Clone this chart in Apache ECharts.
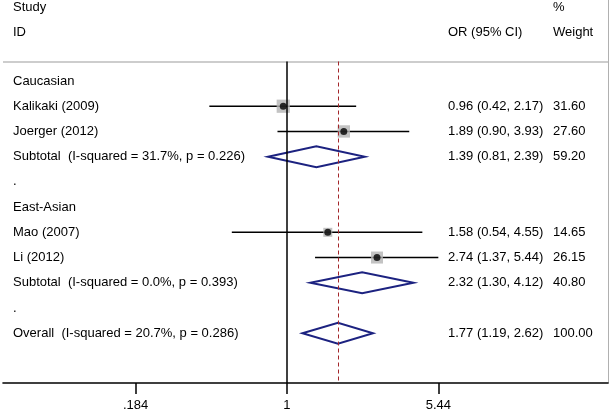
<!DOCTYPE html>
<html><head><meta charset="utf-8">
<script src="https://cdn.jsdelivr.net/npm/echarts@6/dist/echarts.min.js"></script>
<style>html,body{margin:0;padding:0;background:#fff}#c{width:609px;height:414px}</style>
</head><body><div id="c"></div>
<script>
// ---- data ----
const rowLabels = ['Caucasian', 'Kalikaki (2009)', 'Joerger (2012)', 'Subtotal  (I-squared = 31.7%, p = 0.226)', '.',
  'East-Asian', 'Mao (2007)', 'Li (2012)', 'Subtotal  (I-squared = 0.0%, p = 0.393)', '.',
  'Overall  (I-squared = 20.7%, p = 0.286)'];
const rowKinds = ['group', 'study', 'study', 'pooled', 'blank', 'group', 'study', 'study', 'pooled', 'blank', 'pooled'];
const orValues = [null, 0.96, 1.89, 1.39, null, null, 1.58, 2.74, 2.32, null, 1.77];
const ciLow    = [null, 0.42, 0.90, 0.81, null, null, 0.54, 1.37, 1.30, null, 1.19];
const ciHigh   = [null, 2.17, 3.93, 2.39, null, null, 4.55, 5.44, 4.12, null, 2.62];
const weights  = [null, 31.60, 27.60, 59.20, null, null, 14.65, 26.15, 40.80, null, 100.00];
const headerLeft = ['Study', 'ID'];
const headerOR = ['', 'OR (95% CI)'];
const headerWeight = ['%', 'Weight'];
const tickValues = [0.184, 1, 5.44];
const tickLabels = ['.184', '1', '5.44'];
const nullValue = 1;
const overallOR = 1.77;

// ---- layout ----
const FONT = '"Liberation Sans", Arial, sans-serif';
const ROW0 = 81, ROWH = 25.22, GRID_TOP = 0, GRID_BOTTOM_PX = 383;
const Y_MIN = (GRID_TOP - ROW0) / ROWH;
const Y_MAX = (GRID_BOTTOM_PX - ROW0) / ROWH;
const HEAD_ROWS = [(7 - ROW0) / ROWH, (32 - ROW0) / ROWH];
const RULE_ROW = (61.5 - ROW0) / ROWH;
const X_MIN = -3.1756, X_MAX = 3.5917;
const L = Math.log;
const key = v => Number(v).toFixed(3);

function buildMap(headers, rows) {
  const m = new Map();
  headers.forEach((t, i) => { if (t) m.set(key(HEAD_ROWS[i]), t); });
  rows.forEach((t, i) => { if (t) m.set(key(i), t); });
  return m;
}
const leftMap = buildMap(headerLeft, rowLabels);
const orMap = buildMap(headerOR, orValues.map((v, i) => v == null ? '' :
  v.toFixed(2) + ' (' + ciLow[i].toFixed(2) + ', ' + ciHigh[i].toFixed(2) + ')'));
const wMap = buildMap(headerWeight, weights.map(w => w == null ? '' : w.toFixed(2)));

function textAxis(position, margin, map, showLine) {
  return {
    type: 'value', position, inverse: true, min: Y_MIN, max: Y_MAX, offset: 0,
    axisLine: { show: !!showLine, onZero: false, lineStyle: { color: '#b0b0b0', width: 1 } },
    axisTick: { show: false }, splitLine: { show: false },
    axisLabel: {
      show: true, inside: true, margin, align: 'left', color: '#000', fontSize: 13, fontFamily: FONT,
      customValues: Array.from(map.keys()).map(Number),
      formatter: v => map.get(key(v)) || ''
    }
  };
}

const studyData = [], boxData = [], pooledData = [];
rowKinds.forEach((k, i) => {
  if (k === 'study') {
    studyData.push([L(ciLow[i]), L(ciHigh[i]), i]);
    boxData.push([L(orValues[i]), i, weights[i]]);
  } else if (k === 'pooled') {
    pooledData.push([L(ciLow[i]), L(orValues[i]), L(ciHigh[i]), i]);
  }
});

const chart = echarts.init(document.getElementById('c'), null, { renderer: 'canvas' });
chart.setOption({
  animation: false,
  backgroundColor: '#fff',
  grid: { left: 3, right: 1, top: GRID_TOP, bottom: 414 - GRID_BOTTOM_PX, containLabel: false },
  xAxis: {
    type: 'value', min: X_MIN, max: X_MAX, position: 'bottom',
    axisLine: { show: true, onZero: false, lineStyle: { color: '#000', width: 1.6 } },
    axisTick: { show: true, length: 11, lineStyle: { color: '#000', width: 1.5 }, customValues: tickValues.map(L) },
    splitLine: { show: false },
    axisLabel: {
      color: '#000', fontSize: 13, fontFamily: FONT, margin: 16,
      customValues: tickValues.map(L),
      formatter: v => { let b = 0; tickValues.forEach((t, i) => { if (Math.abs(L(t) - v) < Math.abs(L(tickValues[b]) - v)) b = i; }); return tickLabels[b]; }
    }
  },
  yAxis: [
    textAxis('left', 10, leftMap, false),
    textAxis('right', 160, orMap, false),
    textAxis('right', 55, wMap, true)
  ],
  series: [
    {
      type: 'line', data: [], silent: true,
      markLine: {
        silent: true, symbol: 'none', label: { show: false },
        data: [
          [{ coord: [X_MIN, RULE_ROW], lineStyle: { color: '#bdbdbd', width: 1.5, type: 'solid' } }, { coord: [X_MAX, RULE_ROW] }],
          [{ coord: [L(nullValue), RULE_ROW], lineStyle: { color: '#000', width: 1.5, type: 'solid' } }, { coord: [L(nullValue), Y_MAX] }],
          [{ coord: [L(overallOR), RULE_ROW], lineStyle: { color: '#a3262a', width: 1, type: [4, 3] } }, { coord: [L(overallOR), Y_MAX] }]
        ]
      }
    },
    {
      type: 'custom', data: studyData, encode: { x: [0, 1], y: 2 },
      renderItem: (params, api) => {
        const a = api.coord([api.value(0), api.value(2)]);
        const b = api.coord([api.value(1), api.value(2)]);
        return { type: 'line', shape: { x1: a[0], y1: a[1], x2: b[0], y2: b[1] }, style: { stroke: '#000', lineWidth: 1.6 } };
      }
    },
    {
      type: 'scatter', data: boxData, symbol: 'rect',
      symbolSize: v => Math.sqrt(v[2]) * 2.35,
      itemStyle: { color: '#b4b4b4' }
    },
    {
      type: 'scatter', data: boxData, symbol: 'circle', symbolSize: 7,
      itemStyle: { color: '#000' }
    },
    {
      type: 'custom', data: pooledData, encode: { x: [0, 1, 2], y: 3 },
      renderItem: (params, api) => {
        const r = api.value(3);
        const l = api.coord([api.value(0), r]);
        const c = api.coord([api.value(1), r]);
        const h = api.coord([api.value(2), r]);
        const hh = 10.5;
        return {
          type: 'polygon',
          shape: { points: [[l[0], c[1]], [c[0], c[1] - hh], [h[0], c[1]], [c[0], c[1] + hh]] },
          style: { fill: 'none', stroke: '#1c2280', lineWidth: 2 }
        };
      }
    }
  ]
});
</script></body></html>
